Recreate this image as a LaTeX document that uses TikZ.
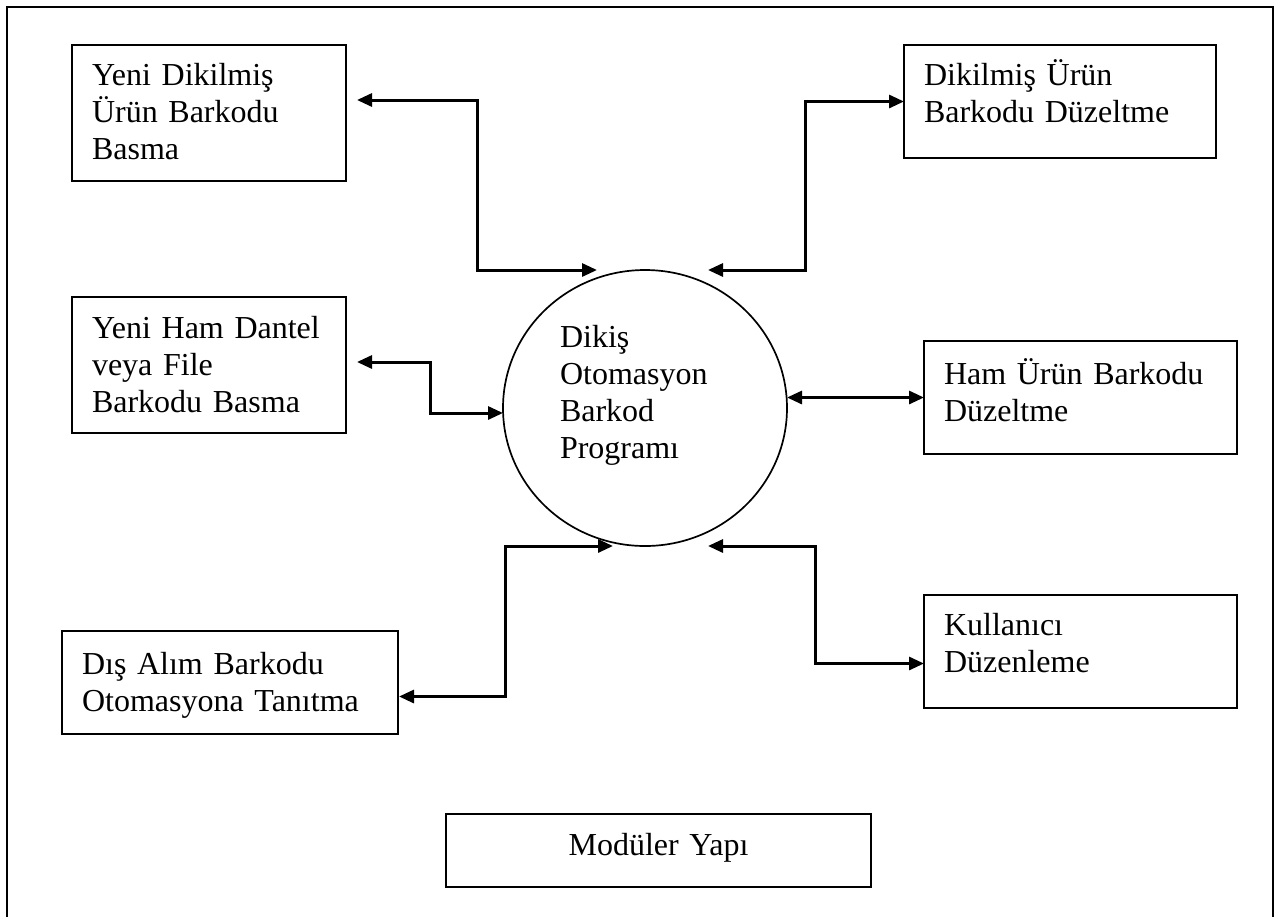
\documentclass[tikz,border=0pt]{standalone}
\usepackage{fontspec}
\setmainfont{Liberation Serif}
\usetikzlibrary{arrows.meta,shapes.geometric,calc}
\begin{document}
\begin{tikzpicture}[x=0.5pt,y=-0.5pt,
  every node/.style={font=\fontsize{16}{18.5}\selectfont},
  modbox/.style={draw,line width=1pt,inner xsep=10pt,inner ysep=0pt,outer sep=0pt,align=left,anchor=north west},
  hub/.style={draw,ellipse,line width=0.85pt,inner sep=0pt,outer sep=0pt,minimum width=142pt,minimum height=138pt,align=left},
  dbl/.style={line width=1.5pt,{Triangle[length=7.5pt,width=6.5pt]}-{Triangle[length=7.5pt,width=6.5pt]}}
]
\useasboundingbox (0,0) rectangle (1280,917);
\draw[line width=1pt] (7,917) -- (7,7) -- (1273,7) -- (1273,917);

\node[modbox,text width=117pt,text height=20pt,text depth=48pt] (b1) at (72,45) {Yeni Dikilmiş\\Ürün Barkodu\\Basma};
\node[modbox,text width=117pt,text height=20.5pt,text depth=47.5pt] (b2) at (72,297) {Yeni Ham Dantel\\veya File\\Barkodu Basma};
\node[modbox,text width=136pt,text height=20pt,text depth=36.5pt] (b3) at (904,45) {Dikilmiş Ürün\\Barkodu Düzeltme};
\node[modbox,text width=136.5pt,text height=21.5pt,text depth=35pt] (b4) at (924,341) {Ham Ürün Barkodu\\Düzeltme};
\node[modbox,text width=148pt,text height=21.5pt,text depth=30pt] (b5) at (62,631) {Dış Alım Barkodu\\Otomasyona Tanıtma};
\node[modbox,text width=136.5pt,text height=20pt,text depth=36.5pt] (b6) at (924,595) {Kullanıcı\\Düzenleme};
\node[modbox,align=center,text width=192.5pt,text height=20.5pt,text depth=16pt] (b7) at (446,814) {Modüler Yapı};

\node[hub,text width=85pt,text height=14.5pt,text depth=75.5pt] (c) at (645,408) {Dikiş\\Otomasyon\\Barkod\\Programı};

\coordinate (p1) at ($(b1.north east)+(11,55)$);
\coordinate (p2) at ($(b2.east)+(11,-3)$);
\coordinate (p5) at ($(b5.east)+(1,14)$);
\coordinate (p6) at ($(b6.west)+(0,12)$);
\coordinate (t1) at ($(c.north)+(-48,0)$);
\coordinate (t2) at ($(c.west)+(0,5)$);
\coordinate (t3) at ($(c.north)+(63,0)$);
\coordinate (t5) at ($(c.south)+(-32,0)$);
\coordinate (t6) at ($(c.south)+(63,0)$);

\draw[dbl] (p1) -| ($(t1)+(-120,0)$) -- (t1);
\draw[dbl] (p2) -| ($(t2)+(-73,0)$) -- (t2);
\draw[dbl] (b3.west) -| ($(t3)+(97,0)$) -- (t3);
\draw[dbl] (b4.west) -- (b4.west -| c.east);
\draw[dbl] (p5) -| ($(t5)+(-108,0)$) -- (t5);
\draw[dbl] (p6) -| ($(t6)+(107,0)$) -- (t6);
\end{tikzpicture}
\end{document}
